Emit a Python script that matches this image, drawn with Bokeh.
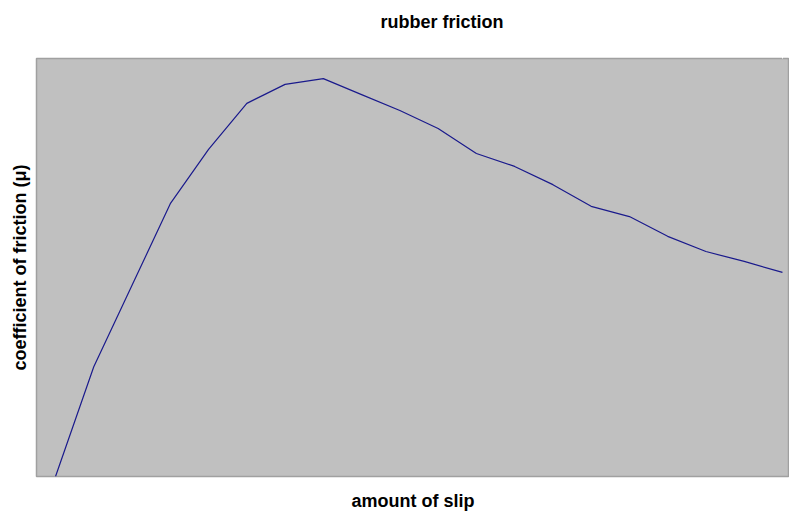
from bokeh.plotting import figure
from bokeh.models import ColumnDataSource, FixedTicker, LinearAxis, Title
from bokeh.embed import file_html
from bokeh.resources import INLINE

# amount of slip (arbitrary steps) and coefficient of friction
slip = list(range(20))
mu = [0.0, 0.289, 0.503, 0.718, 0.861, 0.982, 1.032, 1.047, 1.005, 0.963,
      0.916, 0.850, 0.816, 0.768, 0.711, 0.684, 0.632, 0.592, 0.566, 0.537]

title_text = "rubber friction"
x_label = "amount of slip"
y_label = "coefficient of friction (\u03bc)"

W, H = 789, 513
font = "Liberation Sans"
p = figure(width=W, height=H, output_backend="svg", toolbar_location=None,
           title=None,
           x_range=(-0.497, 19.184), y_range=(0, 1.1),
           min_border_left=36, min_border_right=0, min_border_top=58,
           min_border_bottom=37)
p.background_fill_color = "#c0c0c0"
p.border_fill_color = "white"
p.outline_line_color = "#a0a0a0"
p.outline_line_width = 1.5
p.xgrid.visible = False
p.ygrid.visible = False


def hide_ticks(ax):
    ax.ticker = FixedTicker(ticks=[])
    ax.axis_line_color = None
    ax.major_tick_out = 0
    ax.major_tick_in = 0
    ax.minor_tick_out = 0
    ax.minor_tick_in = 0
    ax.major_label_standoff = 0


for ax in (p.xaxis[0], p.yaxis[0]):
    hide_ticks(ax)
    ax.axis_label_text_font = font
    ax.axis_label_text_font_size = "18px"
    ax.axis_label_text_font_style = "bold"
    ax.axis_label_text_color = "black"

p.xaxis.axis_label = x_label
p.xaxis.axis_label_standoff = 14
p.yaxis.axis_label = y_label
p.yaxis.axis_label_standoff = 7

# white-on-white spacer axis next to the frame, pushing the title outward
spacer = LinearAxis()
hide_ticks(spacer)
spacer.ticker = FixedTicker(ticks=[slip[-1]])
spacer.major_label_overrides = {slip[-1]: ""}
spacer.major_tick_out = 27
spacer.major_tick_line_color = "white"
spacer.major_label_text_font_size = "1px"
p.add_layout(spacer, "above")

p.add_layout(Title(text=title_text, align="left", offset=344, standoff=0,
                   text_font=font, text_font_size="18px",
                   text_font_style="bold", text_color="black"), "above")

src = ColumnDataSource(dict(x=slip, y=mu))
p.line("x", "y", source=src, line_color="#1a1a8c", line_width=1.2)

open("out.html", "w").write(file_html(p, INLINE))
